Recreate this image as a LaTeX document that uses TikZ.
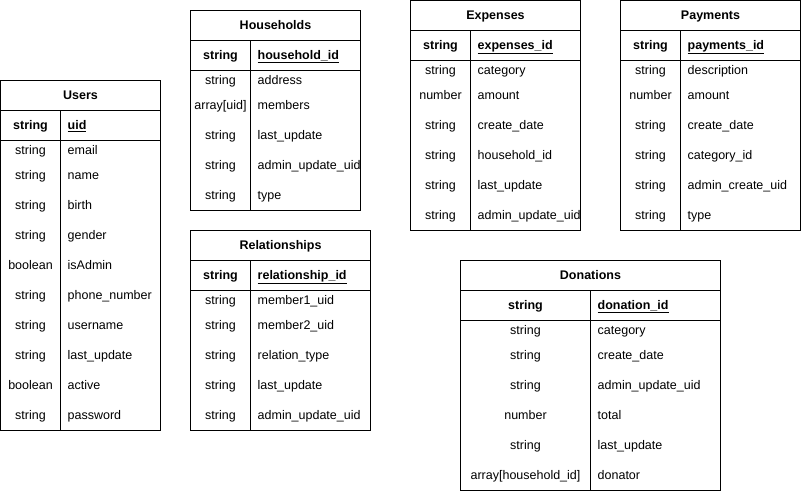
\documentclass[tikz,border=0pt]{standalone}
\usepackage{fontspec}
\setmainfont{Liberation Sans}
\tikzset{
  cellfont/.style={font=\fontsize{12.5}{14}\selectfont, inner sep=0pt, text height=9pt, text depth=2.5pt},
  titlecell/.style={cellfont, font=\bfseries\fontsize{12.5}{14}\selectfont},
  typecell/.style={cellfont, anchor=center},
  namecell/.style={cellfont, anchor=west},
  boxline/.style={draw=black, line width=1pt},
}
% #1 name, #2 x left, #3 x divider, #4 x right, #5 y top, #6 y bottom, #7 title, #8 key, #9 rows
\newcommand{\erdtable}[9]{%
  \begin{scope}
    \clip (#2,#5) rectangle (#4,#6);
    \node[titlecell] (#1-title) at ({(#2+#4)/2},#5+15.5) {#7};
    \node[titlecell, anchor=center] (#1-keytype) at ({(#2+#3)/2},#5+45.5) {string};
    \node[titlecell, anchor=west] (#1-key) at (#3+7,#5+45.5) {\underline{#8}};
    \foreach \ty/\nm [count=\i] in {#9} {
      \pgfmathsetmacro\yc{\i==1 ? #5+70.5 : #5+65.5+30*(\i-1)}
      \node[typecell] (#1-r\i-t) at ({(#2+#3)/2},\yc) {\ty};
      \node[namecell] (#1-r\i-n) at (#3+7,\yc) {\nm};
    }
  \end{scope}
  \draw[boxline] (#2,#5) rectangle (#4,#6);
  \draw[boxline] (#2,#5+30) -- (#4,#5+30);
  \draw[boxline] (#2,#5+60) -- (#4,#5+60);
  \draw[boxline] (#3,#5+30) -- (#3,#6);
}
\begin{document}
\begin{tikzpicture}[x=1pt, y=-1pt]
\useasboundingbox (-0.5,-0.5) rectangle (801.5,491.5);
\erdtable{users}{0}{60}{160}{80}{430}{Users}{uid}{string/email, string/name, string/birth, string/gender, boolean/isAdmin, string/phone\_number, string/username, string/last\_update, boolean/active, string/password}
\erdtable{households}{190}{250}{360}{10}{210}{Households}{household\_id}{string/address, array[uid]/members, string/last\_update, string/admin\_update\_uid, string/type}
\erdtable{relationships}{190}{250}{370}{230}{430}{Relationships}{relationship\_id}{string/member1\_uid, string/member2\_uid, string/relation\_type, string/last\_update, string/admin\_update\_uid}
\erdtable{expenses}{410}{470}{580}{0}{230}{Expenses}{expenses\_id}{string/category, number/amount, string/create\_date, string/household\_id, string/last\_update, string/admin\_update\_uid}
\erdtable{payments}{620}{680}{800}{0}{230}{Payments}{payments\_id}{string/description, number/amount, string/create\_date, string/category\_id, string/admin\_create\_uid, string/type}
\erdtable{donations}{460}{590}{720}{260}{490}{Donations}{donation\_id}{string/category, string/create\_date, string/admin\_update\_uid, number/total, string/last\_update, array[household\_id]/donator}
\end{tikzpicture}
\end{document}
